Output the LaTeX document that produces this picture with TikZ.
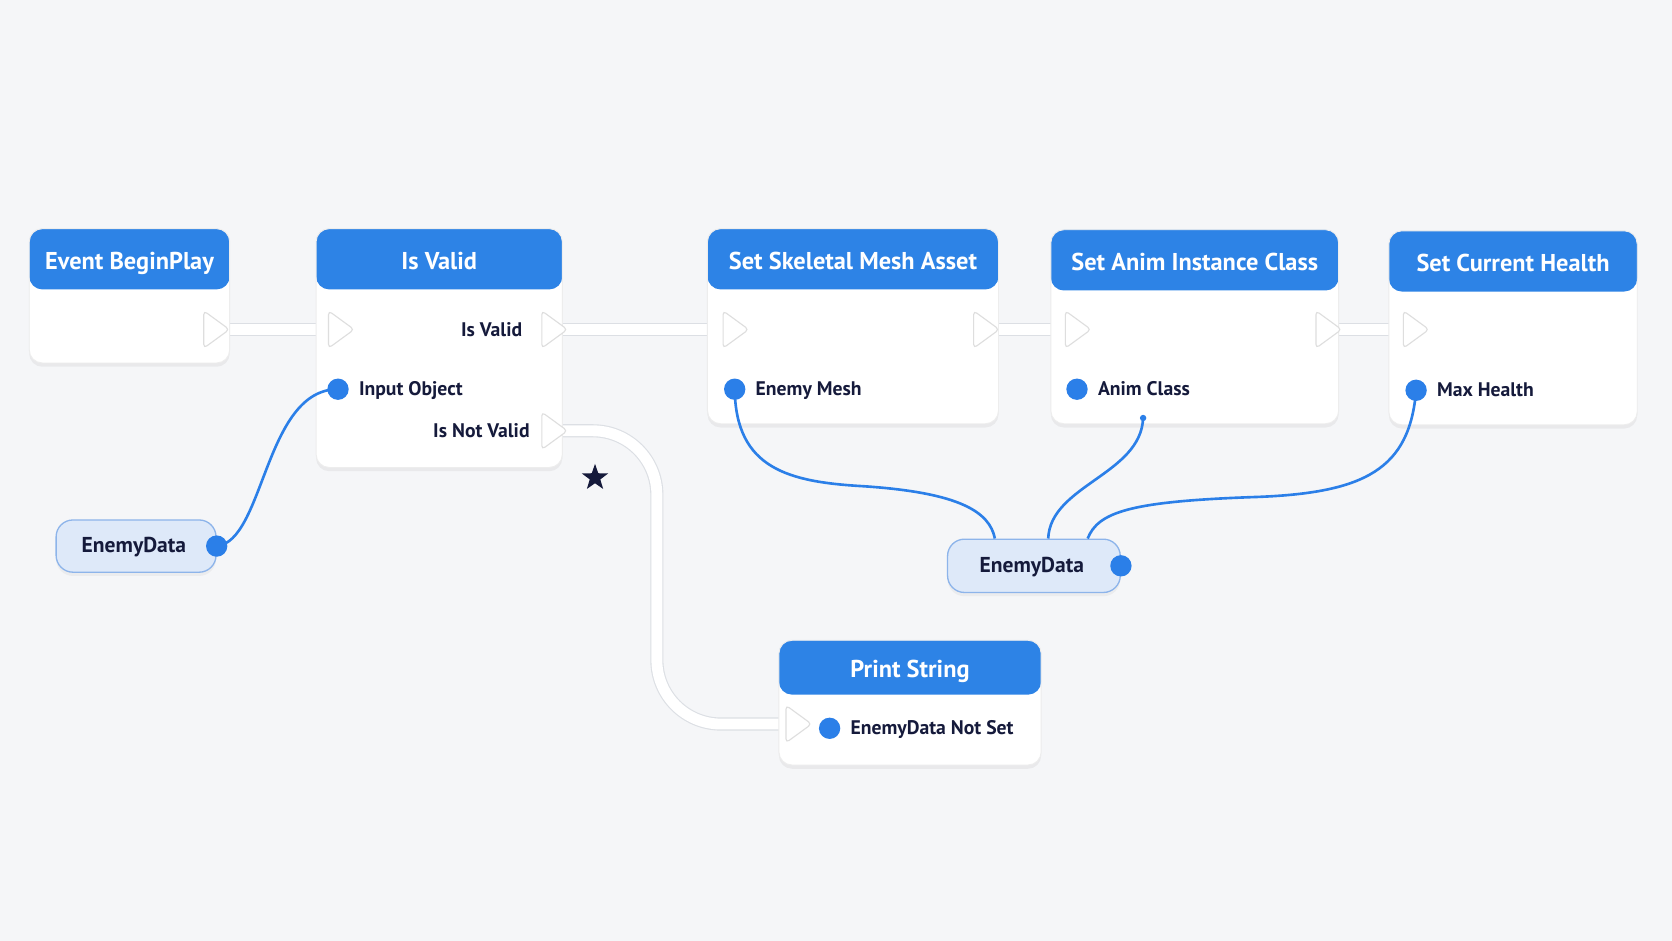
\documentclass[tikz,border=0pt]{standalone}
\usepackage{fontspec}
\setmainfont{PT Sans}
\usepackage{tikz}
\usetikzlibrary{shapes.geometric, arrows.meta, positioning, calc,
                backgrounds, shadows}
\definecolor{canvas}{HTML}{F5F6F8}
\definecolor{hdrblue}{HTML}{2D83E6}
\definecolor{pinblue}{HTML}{2B7FE8}
\definecolor{inkblue}{HTML}{151A3B}
\definecolor{pillfill}{HTML}{DEE9F9}
\definecolor{pillline}{HTML}{8DB4EA}
\definecolor{wireline}{HTML}{DCDFE4}

\begin{document}
\begin{tikzpicture}[x=0.02cm, y=-0.02cm,
  bp/.style={rectangle, rounded corners=7pt, fill=white, draw=black!7,
             line width=0.5pt, anchor=north west, inner sep=0pt,
             drop shadow={shadow xshift=0pt, shadow yshift=-2pt, opacity=0.10},
             path picture={\fill[hdrblue] (path picture bounding box.north west)
               rectangle ([yshift=-#1]path picture bounding box.north east);}},
  bp/.default=1.14cm,
  ttl/.style={font=\fontsize{13}{15}\selectfont\bfseries, text=white, inner sep=0pt,
              text height=0.7em, text depth=0.2em},
  lbl/.style={font=\fontsize{10.5}{12}\selectfont\bfseries, text=inkblue,
              inner sep=0pt, text height=1.7ex, text depth=0.3ex},
  execpin/.style={isosceles triangle, isosceles triangle stretches,
                  minimum width=0.7cm, minimum height=0.48cm, inner sep=0pt,
                  fill=white, draw=black!13, line width=0.6pt, rounded corners=2pt},
  datapin/.style={circle, fill=pinblue, minimum size=0.4cm, inner sep=0pt},
  pill/.style={rectangle, rounded corners=9pt, fill=pillfill, draw=pillline,
               line width=0.7pt, anchor=north west, inner sep=0pt,
               drop shadow={shadow xshift=0pt, shadow yshift=-2pt, opacity=0.08}},
  exw/.style={draw=wireline, line width=0.6pt, double=white, double distance=5.8pt},
  dw/.style={pinblue, line width=1.4pt},
]
  \begin{scope}[on background layer]
    \fill[canvas] (0,0) rectangle (1568,882);
  \end{scope}

  %% Event BeginPlay
  \node[bp, minimum width=3.76cm, minimum height=2.52cm] (ebp) at (27,214) {};
  \node[ttl] (ebp-t) at ([yshift=-0.68cm]ebp.north) {Event BeginPlay};
  \node[execpin] (ebp-out) at (200,309) {};

  %% Is Valid
  \node[bp, minimum width=4.62cm, minimum height=4.48cm] (isv) at (296,214) {};
  \node[ttl] (isv-t) at ([yshift=-0.68cm]isv.north) {Is Valid};
  \node[execpin] (isv-in) at (317,309) {};
  \node[execpin] (isv-ok) at (517,309) {};
  \node[lbl, anchor=east] (isv-okl) at (490,309) {Is Valid};
  \node[datapin] (isv-obj) at (317,365) {};
  \node[lbl, right=0.18cm of isv-obj] (isv-objl) {Input Object};
  \node[execpin] (isv-no) at (517,404) {};
  \node[lbl, anchor=east] (isv-nol) at (497,404) {Is Not Valid};

  %% Set Skeletal Mesh Asset
  \node[bp, minimum width=5.46cm, minimum height=3.66cm] (skm) at (663,214) {};
  \node[ttl] (skm-t) at ([yshift=-0.68cm]skm.north) {Set Skeletal Mesh Asset};
  \node[execpin] (skm-in) at (687,309) {};
  \node[execpin] (skm-out) at (922,309) {};
  \node[datapin] (skm-pin) at (689,365) {};
  \node[lbl, right=0.18cm of skm-pin] (skm-pinl) {Enemy Mesh};

  %% Set Anim Instance Class
  \node[bp, minimum width=5.40cm, minimum height=3.64cm] (anim) at (985,215) {};
  \node[ttl] (anim-t) at ([yshift=-0.68cm]anim.north) {Set Anim Instance Class};
  \node[execpin] (anim-in) at (1008,309) {};
  \node[execpin] (anim-out) at (1243,309) {};
  \node[datapin] (anim-pin) at (1010,365) {};
  \node[lbl, right=0.18cm of anim-pin] (anim-pinl) {Anim Class};
  \node[circle, fill=pinblue, minimum size=0.12cm, inner sep=0pt] (anim-tap) at (1072,392) {};

  %% Set Current Health
  \node[bp, minimum width=4.66cm, minimum height=3.64cm] (hp) at (1302,216) {};
  \node[ttl] (hp-t) at ([yshift=-0.68cm]hp.north) {Set Current Health};
  \node[execpin] (hp-in) at (1325,309) {};
  \node[datapin] (hp-pin) at (1328,366) {};
  \node[lbl, right=0.18cm of hp-pin] (hp-pinl) {Max Health};

  %% Print String
  \node[bp=1.02cm, minimum width=4.92cm, minimum height=2.34cm] (prt) at (730,600) {};
  \node[ttl] (prt-t) at ([yshift=-0.62cm]prt.north) {Print String};
  \node[execpin] (prt-in) at (746,679) {};
  \node[datapin] (prt-pin) at (778,683) {};
  \node[lbl, right=0.18cm of prt-pin] (prt-pinl) {EnemyData Not Set};

  %% EnemyData getters
  \node[pill, minimum width=3.0cm, minimum height=0.98cm] (ed1) at (52,487) {};
  \node[lbl, font=\fontsize{11.5}{13}\selectfont\bfseries] (ed1-t) at ([xshift=-0.04cm]ed1.center) {EnemyData};
  \node[datapin] (ed1-pin) at (ed1.east) {};
  \node[pill, minimum width=3.24cm, minimum height=1.0cm] (ed2) at (888,505) {};
  \node[lbl, font=\fontsize{11.5}{13}\selectfont\bfseries] (ed2-t) at ([xshift=-0.04cm]ed2.center) {EnemyData};
  \node[datapin] (ed2-pin) at (ed2.east) {};

  \node[star, star points=5, star point ratio=2.5, fill=inkblue,
        minimum size=0.52cm, inner sep=0pt] (nvstar) at (558,448) {};

  %% exec wires
  \begin{scope}[on background layer]
    \draw[exw] (ebp-out.center) -- (isv-in.center);
    \draw[exw] (isv-ok.center) -- (skm-in.center);
    \draw[exw] (skm-out.center) -- (anim-in.center);
    \draw[exw] (anim-out.center) -- (hp-in.center);
    \draw[exw, rounded corners=1.2cm] (isv-no.center) -| (616,540) |- (prt-in.center);
  \end{scope}

  %% data wires
  \draw[dw] (ed1-pin.center) .. controls (248,508) and (248,365) .. (isv-obj.center);
  \draw[dw] (skm-pin.center) .. controls (690,440) and (740,452) .. (810,456)
            .. controls (900,462) and (928,480) .. ($(ed2.north west)+(45,0)$);
  \draw[dw] (anim-tap.center) .. controls (1070,445) and (985,455) .. ($(ed2.north west)+(95,0)$);
  \draw[dw] (hp-pin.center) .. controls (1322,440) and (1280,462) .. (1180,466)
            .. controls (1060,470) and (1030,480) .. ($(ed2.north west)+(132,0)$);
\end{tikzpicture}
\end{document}
